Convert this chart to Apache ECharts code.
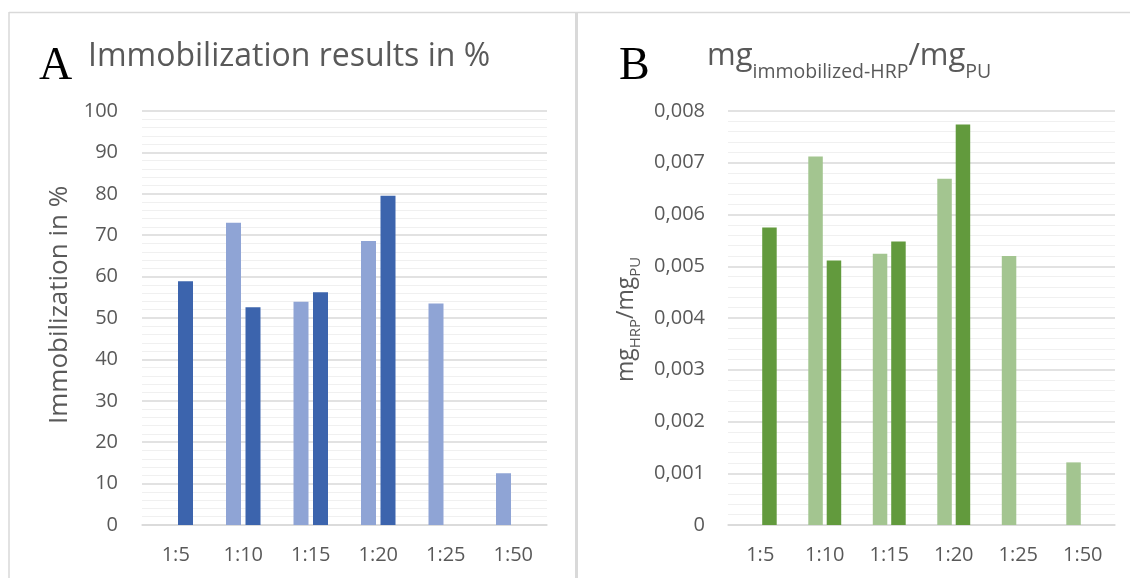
<!DOCTYPE html>
<html><head><meta charset="utf-8">
<script src="https://cdn.jsdelivr.net/npm/echarts@6/dist/echarts.min.js"></script>
<style>html,body{margin:0;padding:0;background:#fff}#c{width:1130px;height:578px}</style>
</head><body><div id="c"></div>
<script>
// ---- data ----
const categories = ['1:5', '1:10', '1:15', '1:20', '1:25', '1:50'];
const immobLight = [null, 73.0, 53.9, 68.6, 53.5, 12.5];
const immobDark = [58.9, 52.6, 56.2, 79.5, null, null];
const mgLight = [null, 0.00712, 0.00524, 0.00669, 0.00520, 0.00121];
const mgDark = [0.00575, 0.00511, 0.00548, 0.00774, null, null];
const axisA = { min: 0, max: 100, interval: 10 };
const axisB = { min: 0, max: 0.008, interval: 0.001 };
const titleA = 'Immobilization results in %';
const axisNameA = 'Immobilization in %';

// ---- style ----
const FONT = 'Open Sans';
const TXT = '#595959';
const GRID = '#d9d9d9';
const MINOR = '#f0f0f0';
const colors = { aLight: '#8FA4D5', aDark: '#3C64AD', bLight: '#A3C590', bDark: '#629A3D' };

const chart = echarts.init(document.getElementById('c'), null, { renderer: 'canvas' });

function xAx(i) {
  return {
    type: 'category', gridIndex: i, data: categories,
    axisLine: { lineStyle: { color: GRID, width: 1.5 } },
    axisTick: { show: false },
    axisLabel: { color: TXT, fontSize: 20, fontFamily: FONT, margin: 20 }
  };
}
function yAx(i, ax, fmt, margin) {
  return {
    type: 'value', gridIndex: i, min: ax.min, max: ax.max, interval: ax.interval,
    axisLine: { show: false }, axisTick: { show: false },
    axisLabel: { color: TXT, fontSize: 20, fontFamily: FONT, margin: margin, formatter: fmt },
    splitLine: { lineStyle: { color: GRID, width: 1.5 } },
    minorTick: { show: false, splitNumber: 5 },
    minorSplitLine: { show: true, lineStyle: { color: MINOR, width: 1 } }
  };
}
function bar(x, data, color, bw, gap) {
  return {
    type: 'bar', xAxisIndex: x, yAxisIndex: x, data: data, barWidth: bw, barGap: gap,
    itemStyle: { color: color }
  };
}

const option = {
  animation: false,
  textStyle: { fontFamily: FONT },
  grid: [
    { left: 142, top: 111, width: 405, height: 414 },
    { left: 728, top: 111, width: 387, height: 414 }
  ],
  xAxis: [xAx(0), xAx(1)],
  yAxis: [
    yAx(0, axisA, v => String(v), 24),
    yAx(1, axisB, v => v === 0 ? '0' : v.toFixed(3).replace('.', ','), 23)
  ],
  series: [
    bar(0, immobLight, colors.aLight, 15, '30%'),
    bar(0, immobDark, colors.aDark, 15, '30%'),
    bar(1, mgLight, colors.bLight, 14.5, '27%'),
    bar(1, mgDark, colors.bDark, 14.5, '27%')
  ],
  graphic: [
    { type: 'line', shape: { x1: 9, y1: 12.5, x2: 1130, y2: 12.5 }, style: { stroke: GRID, lineWidth: 1.5 }, silent: true },
    { type: 'line', shape: { x1: 9, y1: 12, x2: 9, y2: 578 }, style: { stroke: GRID, lineWidth: 1.5 }, silent: true },
    { type: 'rect', shape: { x: 575, y: 12, width: 3, height: 566 }, style: { fill: GRID }, silent: true },
    { type: 'text', x: 39, y: 67, style: { text: 'A', font: '46px "Liberation Serif"', fill: '#000', align: 'left', verticalAlign: 'middle' } },
    { type: 'text', x: 619, y: 67, style: { text: 'B', font: '46px "Liberation Serif"', fill: '#000', align: 'left', verticalAlign: 'middle' } },
    { type: 'text', x: 88, y: 57, style: { text: titleA, font: '32px "Open Sans"', fill: TXT, align: 'left', verticalAlign: 'middle' } },
    { type: 'text', x: 707, y: 56, style: {
        text: '{m|mg}{s|immobilized-HRP}{m|/mg}{s|PU}', align: 'left', verticalAlign: 'middle',
        rich: {
          m: { fontSize: 31, fontFamily: FONT, fill: TXT },
          s: { fontSize: 19.5, fontFamily: FONT, fill: TXT, padding: [32, 0, 0, 0] }
        }
    } },
    { type: 'text', x: 60, y: 424, rotation: Math.PI / 2, style: { text: axisNameA, font: '26px "Open Sans"', fill: TXT, align: 'left', verticalAlign: 'middle' } },
    { type: 'text', x: 626, y: 382, rotation: Math.PI / 2, style: {
        text: '{m|mg}{s|HRP}{m|/mg}{s|PU}', align: 'left', verticalAlign: 'middle',
        rich: {
          m: { fontSize: 23, fontFamily: FONT, fill: TXT },
          s: { fontSize: 15, fontFamily: FONT, fill: TXT, padding: [20, 0, 0, 0] }
        }
    } }
  ]
};
chart.setOption(option);
</script>
</body></html>
